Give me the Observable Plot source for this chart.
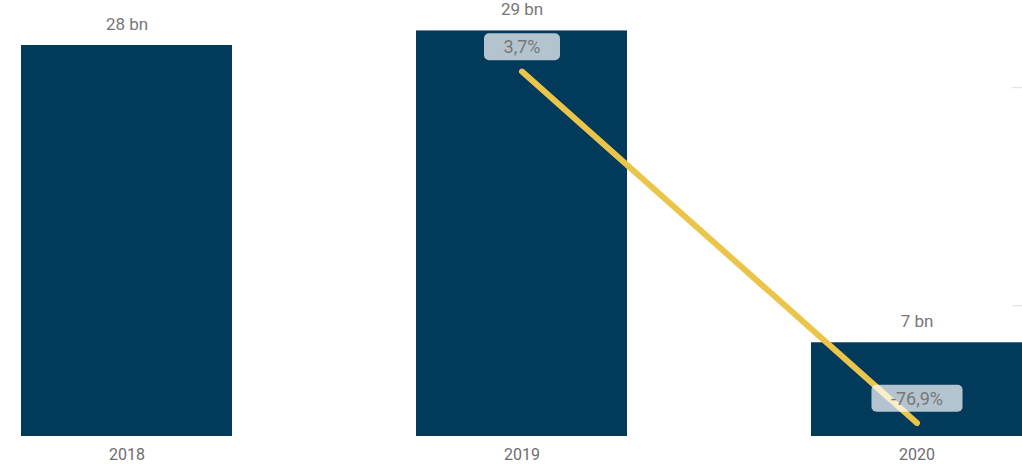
<!DOCTYPE html>
<html>
<head>
<meta charset="utf-8">
<script src="https://cdn.jsdelivr.net/npm/d3@7"></script>
<script src="https://cdn.jsdelivr.net/npm/@observablehq/plot@0.6"></script>
<style>
  html, body { margin: 0; padding: 0; background: #fff; }
  #chart svg { display: block; }
</style>
</head>
<body>
<div id="chart"></div>
<script>
// Data
const years = ["2018", "2019", "2020"];
const revenueBn = [28.0, 29.04, 6.71];
const barLabels = ["28 bn", "29 bn", "7 bn"];
const changeYears = ["2019", "2020"];
const changePct = [3.7, -76.9];
const changeLabels = ["3,7%", "-76,9%"];
const pctTicks = [0, -50];

const bars = years.map((y, i) => ({year: y, value: revenueBn[i], label: barLabels[i]}));
const changes = changeYears.map((y, i) => ({year: y, pct: changePct[i], label: changeLabels[i]}));

// secondary axis: percent -> bar units
const yMaxBn = 31.22;
const pctToBn = d3.scaleLinear().domain([-80, 20]).range([0, yMaxBn]);

const font = "Roboto, 'DejaVu Sans', sans-serif";

const plot = Plot.plot({
  width: 1022,
  height: 464,
  marginLeft: 21,
  marginRight: 0,
  marginTop: 0,
  marginBottom: 28,
  style: {fontFamily: font, background: "#fff"},
  x: {domain: years, paddingInner: 0.466, paddingOuter: 0, label: null},
  y: {domain: [0, yMaxBn], axis: null},
  marks: [
    Plot.barY(bars, {x: "year", y: "value", fill: "#013A5B"}),
    Plot.ruleY(pctTicks, {y: d => pctToBn(d), stroke: "#dcdcdc", strokeWidth: 1, insetLeft: 991}),
    Plot.text(bars, {x: "year", y: "value", text: "label", dy: -21, fill: "#777", fontSize: 17}),
    Plot.line(changes, {x: "year", y: d => pctToBn(d.pct), stroke: "#EAC54A", strokeWidth: 6, strokeLinecap: "round"}),
    Plot.text(changes, {x: "year", y: d => pctToBn(d.pct), text: "label", dy: -24, fill: "#777", fontSize: 18}),
    Plot.axisX({tickSize: 0, tickPadding: 12, fontSize: 16, color: "#6e6e6e", label: null})
  ]
});

document.getElementById("chart").appendChild(plot);

// rounded background boxes behind percent labels
plot.querySelectorAll("text").forEach(t => {
  if (!changeLabels.includes(t.textContent)) return;
  const b = t.getBBox();
  const padX = 19.5;
  const r = document.createElementNS("http://www.w3.org/2000/svg", "rect");
  r.setAttribute("x", b.x - padX);
  r.setAttribute("y", b.y + b.height / 2 - 13.5);
  r.setAttribute("width", b.width + 2 * padX);
  r.setAttribute("height", 27);
  r.setAttribute("rx", 5);
  r.setAttribute("fill", "#ffffff");
  r.setAttribute("fill-opacity", 0.7);
  if (t.getAttribute("transform")) r.setAttribute("transform", t.getAttribute("transform"));
  t.parentNode.insertBefore(r, t);
});
</script>
</body>
</html>
